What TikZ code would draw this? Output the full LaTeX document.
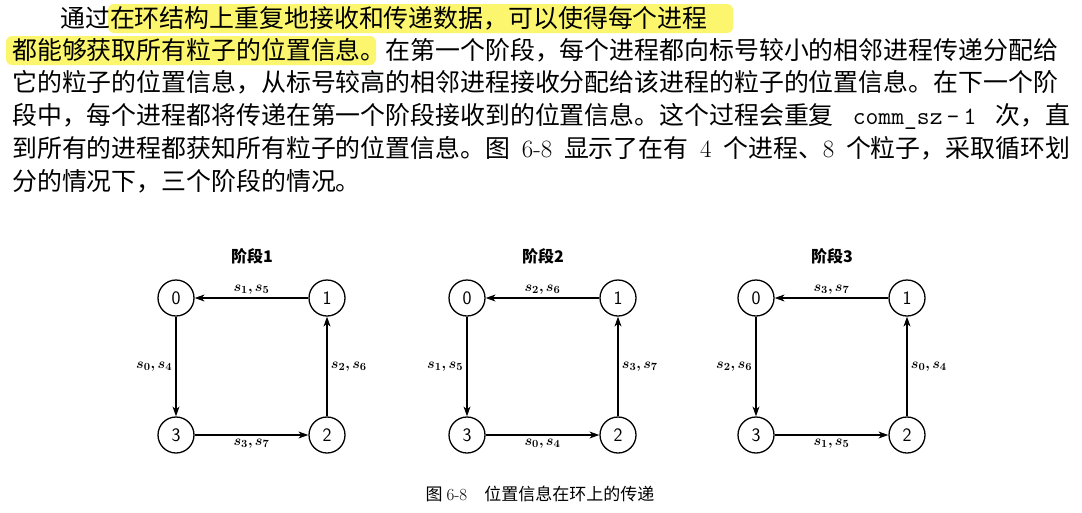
\documentclass[tikz,border=0pt]{standalone}
\usepackage{fontspec}
\usepackage{bm}
\newfontfamily\cjk{Noto Sans CJK SC}
\usetikzlibrary{arrows.meta}
\definecolor{hl}{RGB}{252,246,110}
\tikzset{
  pnode/.style={circle,draw,line width=1.3pt,minimum size=36pt,inner sep=0pt,font=\sffamily\fontsize{19}{19}\selectfont},
  edge/.style={-{Stealth[length=10pt,width=7pt]},line width=1.1pt},
  lab/.style={font=\fontsize{15}{15}\selectfont},
  ttl/.style={font=\cjk\bfseries\fontsize{16}{16}\selectfont},
  para/.style={anchor=base west,inner sep=0pt,font=\cjk\fontsize{24.9}{24.9}\selectfont}
}
\begin{document}
\begin{tikzpicture}[x=1pt,y=-1pt]
\useasboundingbox (0,0) rectangle (1082,512);
\fill[hl,rounded corners=6pt] (108,4) rectangle (733,33);
\fill[hl,rounded corners=6pt] (6,36) rectangle (376,65);
\node[para] (l1) at (60,27) {通过在环结构上重复地接收和传递数据，可以使得每个进程};
\node[para] (l2) at (12,59) {都能够获取所有粒子的位置信息。在第一个阶段，每个进程都向标号较小的相邻进程传递分配给};
\node[para] (l3) at (12,91) {它的粒子的位置信息，从标号较高的相邻进程接收分配给该进程的粒子的位置信息。在下一个阶};
\node[para] (l4) at (12,124) {\makebox[1058pt][s]{段中，每个进程都将传递在第一个阶段接收到的位置信息。这个过程会重复 {\ttfamily comm\_sz\,-\,1} 次，直}};
\node[para] (l5) at (12,157) {\makebox[1058pt][s]{到所有的进程都获知所有粒子的位置信息。图 {\rmfamily 6-8} 显示了在有 {\rmfamily 4} 个进程、{\rmfamily 8} 个粒子，采取循环划}};
\node[para] (l6) at (12,190) {分的情况下，三个阶段的情况。};
\foreach \dx/\t/\a/\b/\c/\d in {0/1/{s_1,s_5}/{s_0,s_4}/{s_3,s_7}/{s_2,s_6},
                                291/2/{s_2,s_6}/{s_1,s_5}/{s_0,s_4}/{s_3,s_7},
                                580/3/{s_3,s_7}/{s_2,s_6}/{s_1,s_5}/{s_0,s_4}}{
  \begin{scope}[xshift=\dx]
  \node[ttl] (t\t) at (252,256) {阶段\t};
  \node[pnode] (a\t) at (176,298) {0};
  \node[pnode] (b\t) at (327,298) {1};
  \node[pnode] (c\t) at (327,435) {2};
  \node[pnode] (d\t) at (176,435) {3};
  \draw[edge] (b\t) -- node[lab,above]{$\bm{\a}$} (a\t);
  \draw[edge] (a\t) -- node[lab,left]{$\bm{\b}$} (d\t);
  \draw[edge] (d\t) -- node[lab,below]{$\bm{\c}$} (c\t);
  \draw[edge] (c\t) -- node[lab,right]{$\bm{\d}$} (b\t);
  \end{scope}
}
\node[font=\cjk\fontsize{17}{17}\selectfont] (cap) at (540,494) {图 {\rmfamily 6-8}\quad 位置信息在环上的传递};
\end{tikzpicture}
\end{document}
